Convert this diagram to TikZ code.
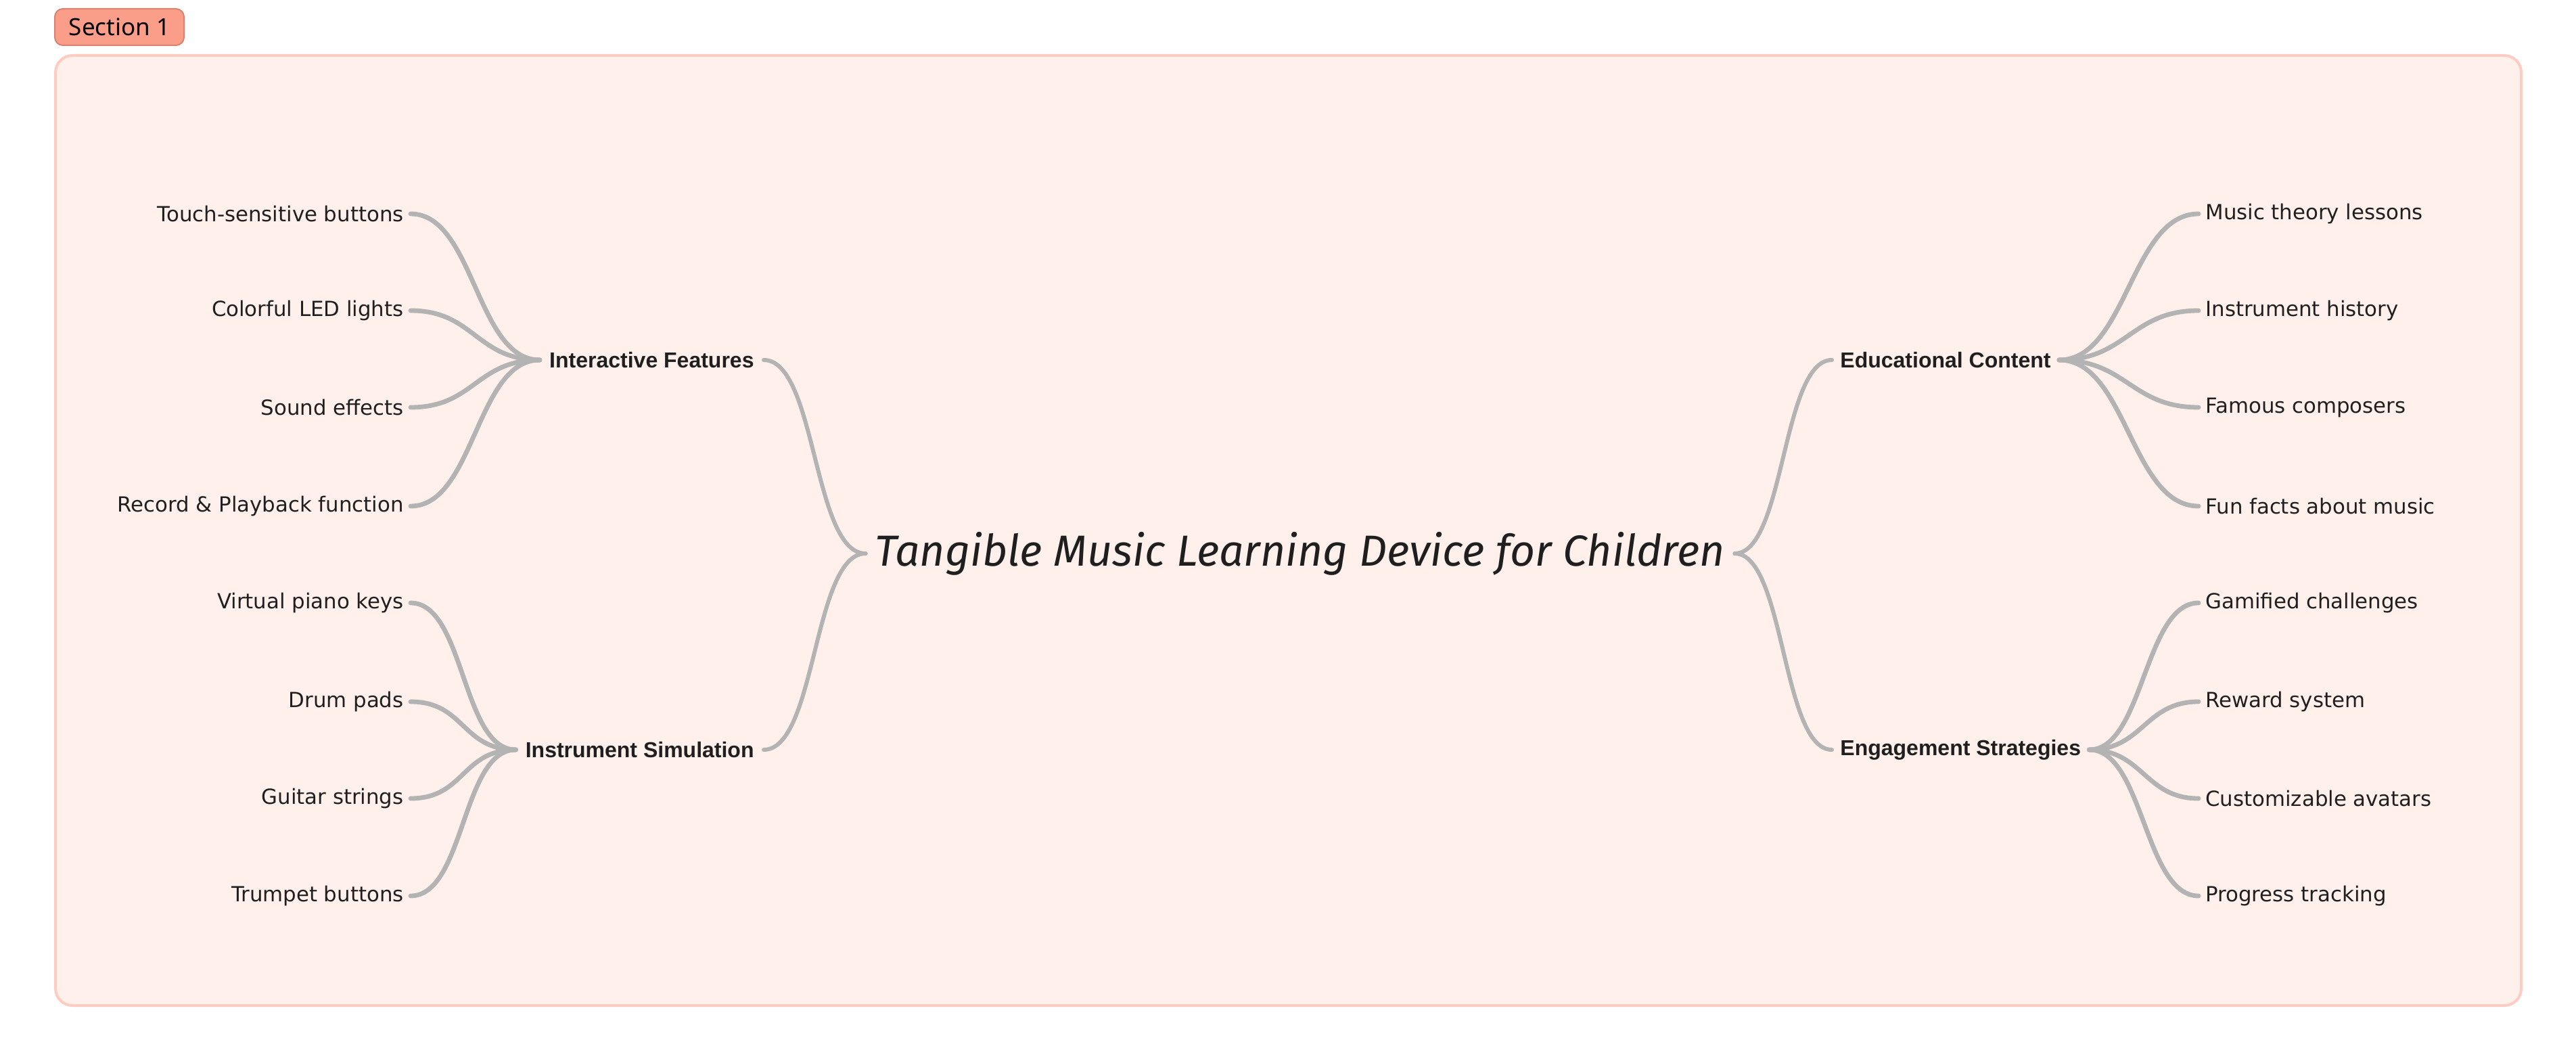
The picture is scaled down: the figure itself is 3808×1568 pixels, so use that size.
\documentclass[tikz,border=0pt]{standalone}
\usepackage{fontspec}
\setmainfont{DejaVu Sans}
\newfontfamily\handfont{Fira Sans}
\newfontfamily\tagfont{Noto Sans}
\newfontfamily\branchfont{Liberation Sans}
\definecolor{frameFill}{HTML}{FFF0EC}
\definecolor{frameLine}{HTML}{FFCCC2}
\definecolor{tagFill}{HTML}{FA9E8A}
\definecolor{tagLine}{HTML}{D9826F}
\definecolor{linkGray}{HTML}{B3B3B3}
\definecolor{inkDark}{HTML}{1F1F1F}
\tikzset{
  leafL/.style={anchor=east, inner ysep=0pt, inner xsep=5pt, text=inkDark, font=\fontsize{15.4pt}{18pt}\selectfont},
  leafR/.style={anchor=west, inner ysep=0pt, inner xsep=5pt, text=inkDark, font=\fontsize{15.4pt}{18pt}\selectfont},
  branchL/.style={anchor=east, inner ysep=0pt, inner xsep=7pt, text=inkDark, font=\branchfont\fontsize{16pt}{18pt}\selectfont\bfseries},
  branchR/.style={anchor=west, inner ysep=0pt, inner xsep=6pt, text=inkDark, font=\branchfont\fontsize{16pt}{18pt}\selectfont\bfseries},
  leaflink/.style={draw=linkGray, line width=3.4pt, line cap=round},
  mainlink/.style={draw=linkGray, line width=3pt, line cap=round},
}
\begin{document}
\begin{tikzpicture}[x=0.5pt,y=-0.5pt]
\useasboundingbox (0,0) rectangle (3808,1568);
% frame
\draw[draw=frameLine, fill=frameFill, line width=2pt, rounded corners=12.5pt] (82,82) rectangle (3727,1486);
% section tag
\node[draw=tagLine, fill=tagFill, line width=1pt, rounded corners=6pt, minimum width=95.5pt, minimum height=27pt, inner sep=0pt, font=\tagfont\fontsize{17.5pt}{20pt}\selectfont, text=black] (tag) at (176.5,40) {Section 1};

% center
\node[inner xsep=7pt, inner ysep=0pt, text=inkDark] (center) at (1922,818) {\resizebox{628pt}{!}{\handfont\itshape Tangible Music Learning Device for Children}};

% branches
\node[branchL] (inter) at (1129,532) {Interactive Features};
\node[branchL] (instr) at (1129,1108) {Instrument Simulation};
\node[branchR] (edu) at (2708,532) {Educational Content};
\node[branchR] (eng) at (2708,1108) {Engagement Strategies};

% left leaves
\node[leafL] (l1) at (607,316) {Touch-sensitive buttons};
\node[leafL] (l2) at (607,459) {Colorful LED lights};
\node[leafL] (l3) at (607,602) {Sound effects};
\node[leafL] (l4) at (607,748) {Record \& Playback function};
\node[leafL] (l5) at (607,891) {Virtual piano keys};
\node[leafL] (l6) at (607,1037) {Drum pads};
\node[leafL] (l7) at (607,1180) {Guitar strings};
\node[leafL] (l8) at (607,1324) {Trumpet buttons};

% right leaves
\node[leafR] (r1) at (3250,316) {Music theory lessons};
\node[leafR] (r2) at (3250,459) {Instrument history};
\node[leafR] (r3) at (3250,602) {Famous composers};
\node[leafR] (r4) at (3250,748) {Fun facts about music};
\node[leafR] (r5) at (3250,891) {Gamified challenges};
\node[leafR] (r6) at (3250,1037) {Reward system};
\node[leafR] (r7) at (3250,1180) {Customizable avatars};
\node[leafR] (r8) at (3250,1324) {Progress tracking};

% main links
\draw[mainlink] (inter.east) .. controls +(78,0) and +(-78,0) .. (center.west);
\draw[mainlink] (instr.east) .. controls +(78,0) and +(-78,0) .. (center.west);
\draw[mainlink] (center.east) .. controls +(74,0) and +(-74,0) .. (edu.west);
\draw[mainlink] (center.east) .. controls +(74,0) and +(-74,0) .. (eng.west);

% left leaf links
\foreach \l in {l1,l2,l3,l4}
  \draw[leaflink] (\l.east) .. controls +(94,0) and +(-94,0) .. (inter.west);
\foreach \l in {l5,l6,l7,l8}
  \draw[leaflink] (\l.east) .. controls +(80,0) and +(-80,0) .. (instr.west);
% right leaf links
\foreach \r in {r1,r2,r3,r4}
  \draw[leaflink] (edu.east) .. controls +(100,0) and +(-100,0) .. (\r.west);
\foreach \r in {r5,r6,r7,r8}
  \draw[leaflink] (eng.east) .. controls +(80,0) and +(-80,0) .. (\r.west);
\end{tikzpicture}
\end{document}
